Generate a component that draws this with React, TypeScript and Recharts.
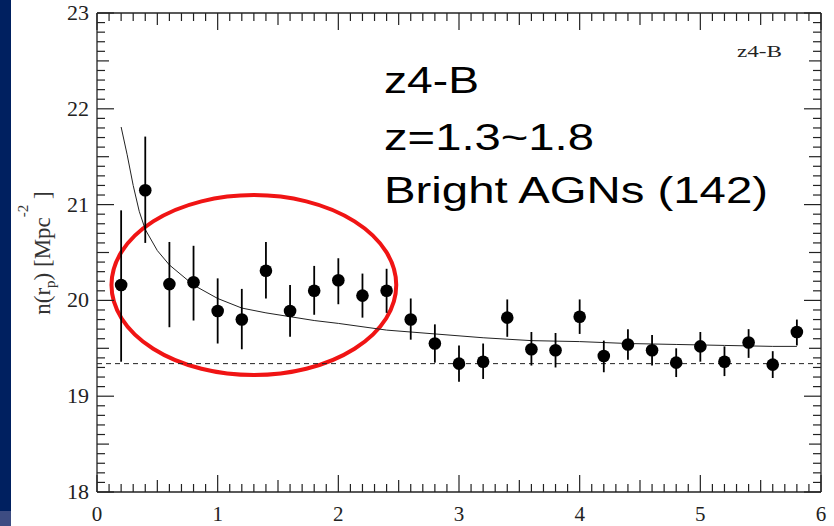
import React from "react";
import {
  ComposedChart,
  XAxis,
  YAxis,
  Scatter,
  Line,
  ErrorBar,
  ReferenceLine,
  ReferenceArea,
  Customized,
} from "recharts";

// ---- data ----
const rp = [0.2, 0.4, 0.6, 0.8, 1.0, 1.2, 1.4, 1.6, 1.8, 2.0, 2.2, 2.4, 2.6, 2.8, 3.0, 3.2, 3.4, 3.6, 3.8, 4.0, 4.2, 4.4, 4.6, 4.8, 5.0, 5.2, 5.4, 5.6, 5.8];
const density = [20.16, 21.15, 20.17, 20.19, 19.89, 19.8, 20.31, 19.89, 20.1, 20.21, 20.05, 20.1, 19.8, 19.55, 19.34, 19.36, 19.82, 19.49, 19.48, 19.83, 19.42, 19.54, 19.48, 19.35, 19.52, 19.36, 19.56, 19.33, 19.67];
const errUpper = [20.94, 21.71, 20.61, 20.57, 20.23, 20.12, 20.61, 20.16, 20.36, 20.44, 20.28, 20.33, 20.02, 19.75, 19.53, 19.55, 20.01, 19.67, 19.66, 20.01, 19.58, 19.7, 19.64, 19.5, 19.67, 19.52, 19.7, 19.47, 19.8];
const errLower = [19.36, 20.6, 19.72, 19.79, 19.55, 19.49, 20.02, 19.62, 19.85, 19.96, 19.82, 19.87, 19.59, 19.35, 19.15, 19.18, 19.62, 19.32, 19.3, 19.65, 19.25, 19.38, 19.32, 19.2, 19.36, 19.21, 19.4, 19.19, 19.53];

const fitR = [0.2, 0.25, 0.3, 0.35, 0.4, 0.5, 0.6, 0.8, 1.0, 1.2, 1.4, 1.6, 1.8, 2.0, 2.4, 2.8, 3.2, 3.6, 4.0, 4.4, 4.8, 5.2, 5.6, 5.8];
const fitN = [21.81, 21.52, 21.2, 20.93, 20.74, 20.52, 20.37, 20.16, 20.02, 19.92, 19.87, 19.83, 19.79, 19.76, 19.69, 19.65, 19.61, 19.58, 19.57, 19.55, 19.54, 19.53, 19.52, 19.52];

const backgroundLevel = 19.34;

const xTickLabels = [0, 1, 2, 3, 4, 5, 6];
const yTickLabels = [18, 19, 20, 21, 22, 23];

const highlightR = [0.12, 2.48];
const highlightN = [19.22, 21.1];

const annotationLines = ["z4-B", "z=1.3~1.8", "Bright AGNs (142)"];
const panelTag = "z4-B";

// ---- tables built from the arrays ----
const points = rp.map((r, i) => ({
  r,
  n: density[i],
  err: [density[i] - errLower[i], errUpper[i] - density[i]],
}));
const fit = fitR.map((r, i) => ({ r, n: fitN[i] }));

const minorTicks = (majors: number[]) => {
  const out: number[] = [];
  for (let i = 0; i < majors.length - 1; i++) {
    for (let k = 0; k < 10; k++) out.push(Math.round((majors[i] + k / 10) * 10) / 10);
  }
  out.push(majors[majors.length - 1]);
  return out;
};
const xTicks = minorTicks(xTickLabels);
const yTicks = minorTicks(yTickLabels);

// ---- layout ----
const W = 834;
const H = 526;
const PLOT_TOP = 13;
const PLOT_RIGHT = 821;
const SERIF = "'Liberation Serif', 'Times New Roman', serif";
const SANS = "'Liberation Sans', Arial, sans-serif";
const AXIS_COLOR = "#222";

const tickLen = (v: number) => {
  const t = Math.round(v * 10);
  if (t % 10 === 0) return 17;
  if (t % 5 === 0) return 12;
  return 8;
};

const XTick = (props: any) => {
  const { x, y, payload } = props;
  const v = payload.value;
  const len = tickLen(v);
  const isMajor = Math.round(v * 10) % 10 === 0;
  return (
    <g>
      <line x1={x} x2={x} y1={y} y2={y - len} stroke={AXIS_COLOR} strokeWidth={1.2} />
      <line x1={x} x2={x} y1={PLOT_TOP} y2={PLOT_TOP + len} stroke={AXIS_COLOR} strokeWidth={1.2} />
      {isMajor && (
        <text x={x} y={y + 29} textAnchor="middle" fontFamily={SERIF} fontSize={21} fill="#222">
          {Math.round(v)}
        </text>
      )}
    </g>
  );
};

const YTick = (props: any) => {
  const { x, y, payload } = props;
  const v = payload.value;
  const len = tickLen(v);
  const isMajor = Math.round(v * 10) % 10 === 0;
  return (
    <g>
      <line x1={x} x2={x + len} y1={y} y2={y} stroke={AXIS_COLOR} strokeWidth={1.2} />
      <line x1={PLOT_RIGHT - len} x2={PLOT_RIGHT} y1={y} y2={y} stroke={AXIS_COLOR} strokeWidth={1.2} />
      {isMajor && (
        <text x={x - 8} y={y + 7} textAnchor="end" fontFamily={SERIF} fontSize={22} fill="#222">
          {Math.round(v)}
        </text>
      )}
    </g>
  );
};

const Dot = (props: any) => <circle cx={props.cx} cy={props.cy} r={6.3} fill="#000" />;

const Ellipse = (props: any) => {
  const { x, y, width, height } = props;
  return (
    <ellipse
      cx={x + width / 2}
      cy={y + height / 2}
      rx={width / 2}
      ry={height / 2}
      fill="none"
      stroke="#f01414"
      strokeWidth={4}
    />
  );
};

const Overlay = () => (
  <g>
    <text x={384} y={93} fontFamily={SANS} fontSize={36} fill="#000" textLength={95} lengthAdjust="spacingAndGlyphs">
      {annotationLines[0]}
    </text>
    <text x={384} y={150} fontFamily={SANS} fontSize={36} fill="#000" textLength={210} lengthAdjust="spacingAndGlyphs">
      {annotationLines[1]}
    </text>
    <text x={384} y={203} fontFamily={SANS} fontSize={36} fill="#000" textLength={384} lengthAdjust="spacingAndGlyphs">
      {annotationLines[2]}
    </text>
    <text x={737} y={57} fontFamily={SERIF} fontSize={17} fill="#222" textLength={45} lengthAdjust="spacingAndGlyphs">
      {panelTag}
    </text>
    <text
      transform="translate(50,253) rotate(-90)"
      textAnchor="middle"
      fontFamily={SERIF}
      fontSize={23}
      fill="#333"
    >
      n(r
      <tspan dy={5} fontSize={15}>p</tspan>
      <tspan dy={-5}>) [Mpc</tspan>
      <tspan dy={-22} fontSize={15}>-2</tspan>
      <tspan dy={22}> ]</tspan>
    </text>
  </g>
);

export default function App() {
  return (
    <div style={{ position: "absolute", left: 0, top: 0, width: W, height: H, background: "#fff", overflow: "hidden" }}>
      <div style={{ position: "absolute", left: 0, top: 0, width: 11, height: 511, background: "#002060" }} />
      <div style={{ position: "absolute", left: 0, top: 511, width: 11, height: 15, background: "#3d4c82" }} />
      <div style={{ position: "absolute", left: 0, top: 0 }}>
        <ComposedChart width={W} height={H} margin={{ top: PLOT_TOP, right: W - PLOT_RIGHT, bottom: 0, left: 0 }}>
          <XAxis
            dataKey="r"
            type="number"
            domain={[0, 6]}
            ticks={xTicks}
            interval={0}
            tickSize={0}
            tickMargin={0}
            tickLine={false}
            tick={XTick}
            height={34}
            axisLine={{ stroke: AXIS_COLOR, strokeWidth: 1.3 }}
            allowDataOverflow
          />
          <YAxis
            type="number"
            domain={[18, 23]}
            ticks={yTicks}
            interval={0}
            tickSize={0}
            tickMargin={0}
            tickLine={false}
            tick={YTick}
            width={97}
            axisLine={{ stroke: AXIS_COLOR, strokeWidth: 1.3 }}
            allowDataOverflow
          />
          <ReferenceLine y={23} stroke={AXIS_COLOR} strokeWidth={1.3} />
          <ReferenceLine x={6} stroke={AXIS_COLOR} strokeWidth={1.3} />
          <ReferenceLine y={backgroundLevel} stroke="#222" strokeWidth={1} strokeDasharray="5 4" />
          <Line
            data={fit}
            dataKey="n"
            type="linear"
            stroke="#222"
            strokeWidth={1}
            dot={false}
            activeDot={false}
            isAnimationActive={false}
          />
          <Scatter data={points} dataKey="n" shape={Dot} isAnimationActive={false}>
            <ErrorBar dataKey="err" direction="y" width={0} stroke="#000" strokeWidth={1.8} isAnimationActive={false} />
          </Scatter>
          <ReferenceArea
            x1={highlightR[0]}
            x2={highlightR[1]}
            y1={highlightN[0]}
            y2={highlightN[1]}
            shape={Ellipse}
          />
          <Customized component={Overlay} />
        </ComposedChart>
      </div>
    </div>
  );
}
